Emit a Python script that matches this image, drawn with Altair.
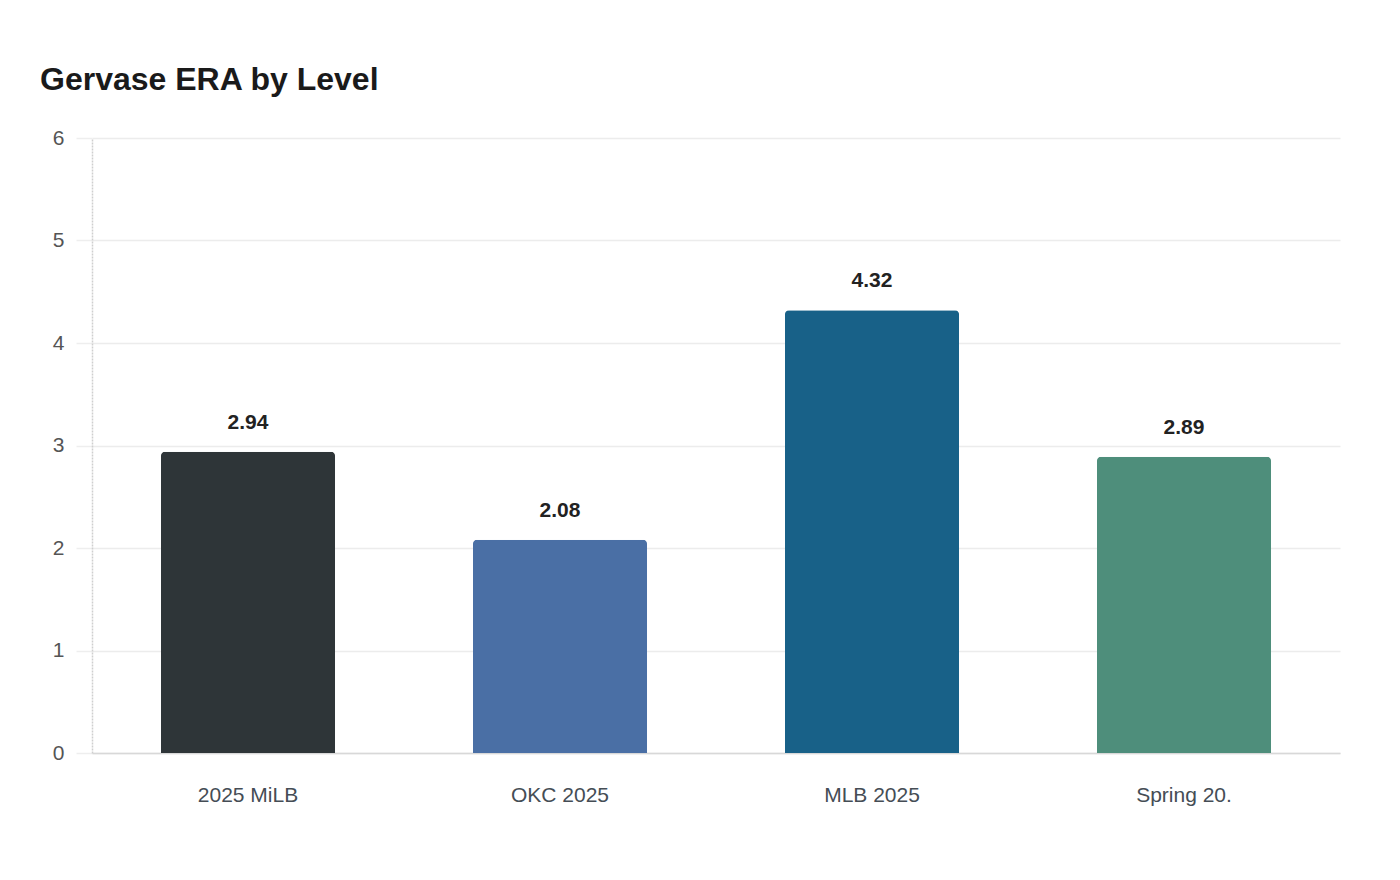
import altair as alt
import pandas as pd

categories = ["2025 MiLB", "OKC 2025", "MLB 2025", "Spring 20."]
era = [2.94, 2.08, 4.32, 2.89]
colors = ["#2e3538", "#4a6fa5", "#186188", "#4e8e7b"]

df = pd.DataFrame({"level": categories, "era": era, "color": colors})

FONT = "Liberation Sans, Arial, Helvetica, sans-serif"

x = alt.X("level:N", sort=categories, title=None,
          scale=alt.Scale(paddingInner=0.442, paddingOuter=0.221),
          axis=alt.Axis(labelAngle=0, labelFontSize=21, labelColor="#454d55",
                        labelFont=FONT, ticks=False, labelPadding=31,
                        domainColor="#d8d8d8", domainWidth=1.5, grid=False))
y = alt.Y("era:Q", title=None,
          scale=alt.Scale(domain=[0, 6], nice=False),
          axis=alt.Axis(values=[0, 1, 2, 3, 4, 5, 6], format="d", labelFontSize=21,
                        labelColor="#555", labelFont=FONT, tickSize=16, tickColor="#eee",
                        tickWidth=1.5, labelPadding=12, gridColor="#ececec", gridWidth=1.5,
                        domainColor="#cfcfcf", domainWidth=1.5, domainDash=[2, 1]))

bars = alt.Chart(df).mark_bar(cornerRadiusTopLeft=4, cornerRadiusTopRight=4).encode(
    x=x, y=y, color=alt.Color("color:N", scale=None)
)
labels = alt.Chart(df).mark_text(fontSize=21, fontWeight="bold", color="#222",
                                 font=FONT, baseline="alphabetic", dy=-23).encode(
    x=alt.X("level:N", sort=categories), y="era:Q", text=alt.Text("era:Q", format=".2f")
)

chart = (bars + labels).properties(
    width=1248, height=615,
    title=alt.TitleParams("Gervase ERA by Level", anchor="start", fontSize=32,
                          font=FONT, fontWeight="bold", color="#1a1a1a",
                          dx=-52, offset=30, frame="group"),
    autosize=alt.AutoSizeParams(type="none"),
    padding={"left": 84, "top": 130, "right": 44, "bottom": 110},
    background="white",
).configure_view(strokeWidth=0)

chart.save("out.html", embed_options={"renderer": "svg", "actions": False})
